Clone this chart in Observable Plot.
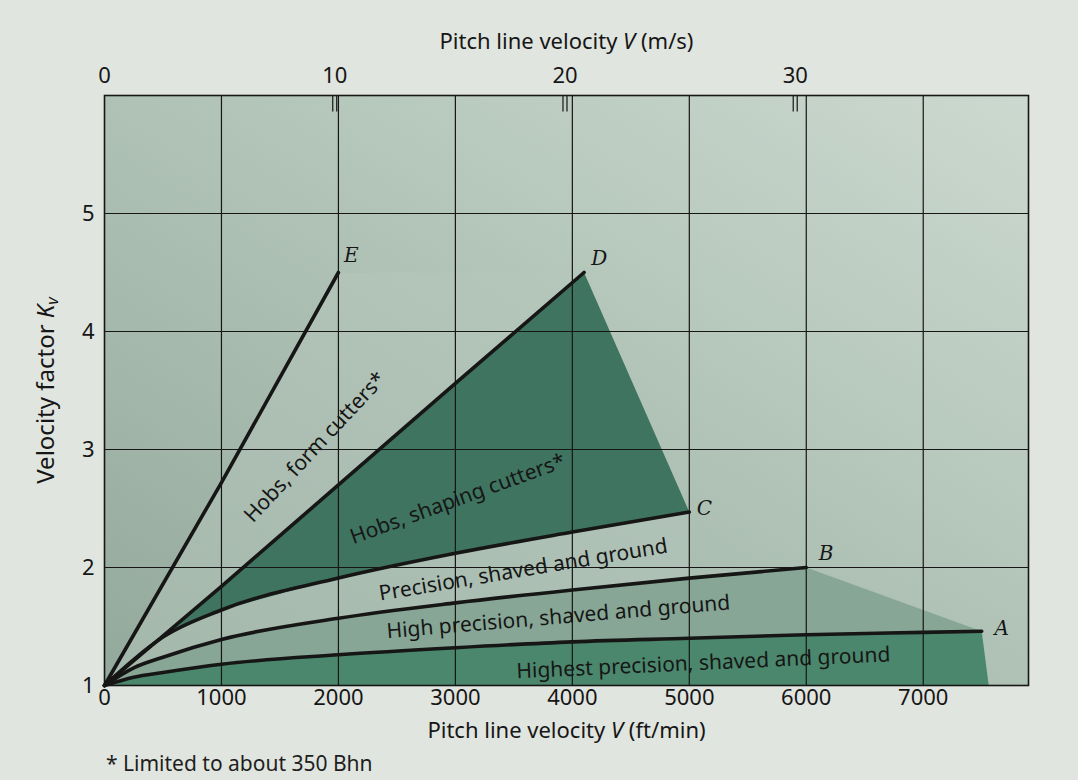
<!DOCTYPE html>
<html><head><meta charset="utf-8">
<script src="https://cdn.jsdelivr.net/npm/d3@7"></script>
<script src="https://cdn.jsdelivr.net/npm/@observablehq/plot@0.6"></script>
<style>
body{margin:0;background:#e1e5df;font-family:"Noto Sans",sans-serif;}
#wrap{position:relative;width:1078px;height:780px;overflow:hidden;}
#note{position:absolute;left:106px;top:749px;font-size:21px;color:#1e1e1e;}
</style></head><body><div id="wrap"><div id="chart"></div><div id="note">* Limited to about 350 Bhn</div></div>
<script>
// Curves: pitch line velocity V (ft/min) vs velocity factor Kv
const vA = [0, 250, 500, 1000, 2000, 3000, 4000, 5000, 6000, 7000, 7500];
const kA = [1, 1.07, 1.11, 1.18, 1.26, 1.32, 1.37, 1.40, 1.43, 1.45, 1.46];
const vB = [0, 250, 500, 1000, 2000, 3000, 4000, 5000, 6000];
const kB = [1, 1.15, 1.24, 1.39, 1.57, 1.70, 1.81, 1.91, 2.00];
const vC = [0, 250, 500, 1000, 2000, 3000, 4000, 5000];
const kC = [1, 1.22, 1.41, 1.64, 1.91, 2.12, 2.30, 2.47];
const vD = [0, 1000, 2000, 3000, 4100];
const kD = [1, 1.84, 2.70, 3.56, 4.50];
const vE = [0, 1000, 2000];
const kE = [1, 2.72, 4.50];
// lower edge of the shaded strip under curve A
const aEdgeV = 7560;

const xTicks = [0, 1000, 2000, 3000, 4000, 5000, 6000, 7000];
const yTicks = [1, 2, 3, 4, 5];
const topTicksMs = [0, 10, 20, 30];
const ftPerMinPerMs = 196.85;

const letters = ["A", "B", "C", "D", "E"];
const letterV = [7670, 6170, 5130, 4230, 2110];
const letterK = [1.48, 2.12, 2.50, 4.62, 4.64];

const bandText = ["Hobs, form cutters*", "Hobs, shaping cutters*", "Precision, shaved and ground", "High precision, shaved and ground", "Highest precision, shaved and ground"];
const bandV = [1800, 3020, 3580, 3880, 5120];
const bandK = [3.02, 2.58, 1.98, 1.58, 1.19];
const bandAngle = [-47, -20, -9.5, -4.8, -2.6];

const pts = (v, k) => v.map((d, i) => ({v: d, k: k[i]}));
const A = pts(vA, kA), B = pts(vB, kB), C = pts(vC, kC), D = pts(vD, kD), E = pts(vE, kE);
const rev = a => a.slice().reverse();
const polyED = [...E, ...rev(D)];
const polyDC = [...D, C[C.length - 1], ...rev(C)];
const polyCB = [...C, {v: vC[vC.length - 1], k: 1.91}, ...rev(B.filter(p => p.v <= 5000))];
const polyBA = [...B, A[A.length - 1], ...rev(A)];
const polyA = [...A, {v: aEdgeV, k: 1}, {v: 0, k: 1}];

const lettersData = letters.map((t, i) => ({t, v: letterV[i], k: letterK[i]}));
const bandData = bandText.map((t, i) => ({t, v: bandV[i], k: bandK[i], r: bandAngle[i]}));
const topTicks = topTicksMs.map(d => d * ftPerMinPerMs);

const ink = "#161616";
const chart = Plot.plot({
  width: 1078, height: 748,
  marginTop: 95, marginLeft: 104, marginRight: 50, marginBottom: 63,
  x: {domain: [0, 7900]},
  y: {domain: [1, 6]},
  style: {fontFamily: "Noto Sans", fontSize: "22px", color: ink, background: "transparent", overflow: "visible"},
  marks: [
    Plot.frame({fill: "url(#bgGrad)"}),
    Plot.line(polyED, {x: "v", y: "k", fill: "#b6c6bb", fillOpacity: 0.5, stroke: null}),
    Plot.line(polyDC, {x: "v", y: "k", fill: "#3f7461", stroke: null}),
    Plot.line(polyCB, {x: "v", y: "k", fill: "#b4c6bb", fillOpacity: 0.5, stroke: null}),
    Plot.line(polyBA, {x: "v", y: "k", fill: "#87a695", stroke: null}),
    Plot.line(polyA, {x: "v", y: "k", fill: "#4b876c", stroke: null}),
    Plot.gridX(xTicks.slice(1), {stroke: ink, strokeOpacity: 1, strokeWidth: 1.2}),
    Plot.gridY(yTicks.slice(1), {stroke: ink, strokeOpacity: 1, strokeWidth: 1.2}),
    Plot.ruleX(topTicks.slice(1), {y1: 6, y2: 5.86, stroke: ink, strokeWidth: 1.2, dx: -2}),
    Plot.ruleX(topTicks.slice(1), {y1: 6, y2: 5.86, stroke: ink, strokeWidth: 1.2, dx: 2}),
    Plot.line(E, {x: "v", y: "k", stroke: ink, strokeWidth: 3.6}),
    Plot.line(D, {x: "v", y: "k", stroke: ink, strokeWidth: 3.6}),
    Plot.line(C, {x: "v", y: "k", stroke: ink, strokeWidth: 3.6, curve: "monotone-x"}),
    Plot.line(B, {x: "v", y: "k", stroke: ink, strokeWidth: 3.6, curve: "monotone-x"}),
    Plot.line(A, {x: "v", y: "k", stroke: ink, strokeWidth: 3.6, curve: "monotone-x"}),
    Plot.frame({stroke: ink, strokeWidth: 1.6}),
    Plot.text(lettersData, {x: "v", y: "k", text: "t", fontFamily: "DejaVu Serif", fontStyle: "italic", fontSize: 20, fill: ink}),
    Plot.text(bandData, {x: "v", y: "k", text: "t", rotate: "r", fontSize: 21, fill: ink}),
    Plot.axisX(xTicks, {anchor: "bottom", tickSize: 0, tickPadding: 4, tickFormat: d => String(d), label: "Pitch line velocity V (ft/min)", labelAnchor: "center", labelArrow: "none", labelOffset: 52}),
    Plot.axisX(topTicks, {anchor: "top", tickSize: 0, tickPadding: 13, tickFormat: d => String(Math.round(d / ftPerMinPerMs)), label: "Pitch line velocity V (m/s)", labelAnchor: "center", labelArrow: "none", labelOffset: 62}),
    Plot.axisY(yTicks, {anchor: "left", tickSize: 0, tickPadding: 10, tickFormat: d => String(d), label: "Velocity factor Kv", labelAnchor: "center", labelArrow: "none", labelOffset: 68})
  ]
});
d3.select(chart).insert("defs", ":first-child").html(
  '<linearGradient id="bgGrad" x1="0" y1="1" x2="1" y2="0">' +
  '<stop offset="0" stop-color="#93a99b"/><stop offset="0.55" stop-color="#b2c4b8"/><stop offset="1" stop-color="#ccd9d0"/></linearGradient>');
// italic variable names in the axis labels
d3.select(chart).selectAll("text").each(function () {
  const t = this.textContent;
  const sel = d3.select(this);
  if (t === "Pitch line velocity V (ft/min)" || t === "Pitch line velocity V (m/s)") {
    const unit = t.endsWith("(ft/min)") ? " (ft/min)" : " (m/s)";
    sel.text(null);
    sel.append("tspan").text("Pitch line velocity ");
    sel.append("tspan").attr("font-style", "italic").text("V");
    sel.append("tspan").text(unit);
  } else if (t === "Velocity factor Kv") {
    sel.attr("font-size", "24px");
    sel.text(null);
    sel.append("tspan").text("Velocity factor ");
    sel.append("tspan").attr("font-style", "italic").text("K");
    sel.append("tspan").attr("font-style", "italic").attr("font-size", "16px").attr("baseline-shift", "-25%").text("v");
  }
});
document.getElementById("chart").appendChild(chart);
</script>
</body></html>
